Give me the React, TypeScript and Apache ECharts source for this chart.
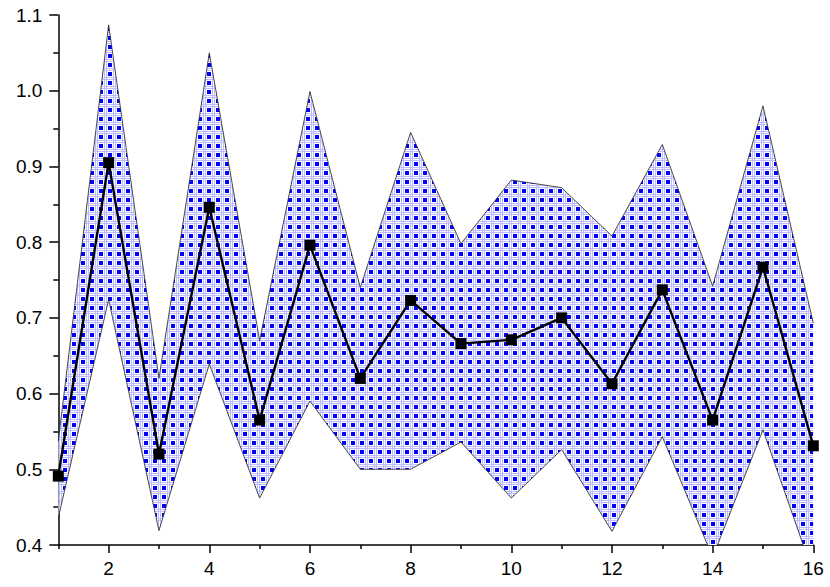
import React, { useEffect, useRef } from "react";
import * as echarts from "echarts";

const xValues = [1, 2, 3, 4, 5, 6, 7, 8, 9, 10, 11, 12, 13, 14, 15, 16];
const meanValues = [0.491, 0.905, 0.52, 0.846, 0.565, 0.796, 0.62, 0.723, 0.666, 0.671, 0.7, 0.613, 0.737, 0.565, 0.767, 0.531];
const upperValues = [0.537, 1.087, 0.62, 1.05, 0.67, 0.999, 0.74, 0.945, 0.798, 0.882, 0.872, 0.808, 0.929, 0.742, 0.98, 0.693];
const lowerValues = [0.436, 0.724, 0.419, 0.639, 0.462, 0.59, 0.5, 0.5, 0.536, 0.462, 0.526, 0.418, 0.543, 0.384, 0.552, 0.362];
const majorXTicks = [2, 4, 6, 8, 10, 12, 14, 16];
const minorXTicks = [1, 3, 5, 7, 9, 11, 13, 15];

function makeTile(): HTMLCanvasElement {
  const P = 9;
  const c = document.createElement("canvas");
  c.width = P;
  c.height = P;
  const ctx = c.getContext("2d")!;
  ctx.fillStyle = "#ffffff";
  ctx.fillRect(0, 0, P, P);
  ctx.fillStyle = "#bcbcff";
  ctx.fillRect(5, 0, 1, P);
  ctx.fillRect(7, 0, 1, P);
  ctx.fillRect(0, 5, P, 1);
  ctx.fillRect(0, 7, P, 1);
  ctx.fillStyle = "#0000ff";
  ctx.fillRect(0, 0, 4, 4);
  return c;
}

export default function App() {
  const ref = useRef<HTMLDivElement>(null);
  useEffect(() => {
    document.body.style.margin = "0";
    const chart = echarts.init(ref.current!, null, { renderer: "svg" });
    const tile = makeTile();
    const bandData = xValues.map((x, i) => [x, upperValues[i], lowerValues[i]]);
    const upperData = xValues.map((x, i) => [x, upperValues[i]]);
    const lowerData = xValues.map((x, i) => [x, lowerValues[i]]);
    const meanData = xValues.map((x, i) => [x, meanValues[i]]);
    const font = "'Liberation Sans', Arial, sans-serif";
    const tickStyle = { color: "#000", width: 1.5 };
    chart.setOption({
      animation: false,
      grid: { left: 58.3, right: 16.7, top: 15, bottom: 42 },
      xAxis: [
        {
          type: "value",
          min: 1,
          max: 16,
          interval: 1,
          position: "bottom",
          splitLine: { show: false },
          axisLine: { show: true, onZero: false, lineStyle: tickStyle },
          axisTick: { show: true, length: 8, customValues: majorXTicks, lineStyle: tickStyle },
          axisLabel: {
            customValues: majorXTicks,
            margin: 14,
            color: "#000",
            fontSize: 19,
            fontFamily: font,
          },
        },
        {
          type: "value",
          min: 1,
          max: 16,
          interval: 1,
          position: "bottom",
          splitLine: { show: false },
          axisLine: { show: false, onZero: false },
          axisTick: { show: true, length: 4, customValues: minorXTicks, lineStyle: tickStyle },
          axisLabel: { show: false },
        },
      ],
      yAxis: {
        type: "value",
        min: 0.4,
        max: 1.1,
        interval: 0.1,
        splitLine: { show: false },
        axisLine: { show: true, onZero: false, lineStyle: tickStyle },
        axisTick: { show: true, length: 9, lineStyle: tickStyle },
        minorTick: { show: true, splitNumber: 2, length: 5, lineStyle: tickStyle },
        axisLabel: {
          margin: 16,
          color: "#000",
          fontSize: 19,
          fontFamily: font,
          formatter: (v: number) => v.toFixed(1),
        },
      },
      series: [
        {
          type: "custom",
          data: bandData,
          z: 1,
          renderItem: (params: any, api: any) => {
            if (params.dataIndex !== 0) return null;
            const pts: number[][] = [];
            for (let j = 0; j < xValues.length; j++) pts.push(api.coord([xValues[j], upperValues[j]]));
            for (let j = xValues.length - 1; j >= 0; j--) pts.push(api.coord([xValues[j], lowerValues[j]]));
            const cs = params.coordSys;
            return {
              type: "polygon",
              shape: { points: pts },
              style: {
                fill: { image: tile, repeat: "repeat", imageWidth: 9, imageHeight: 9 },
                stroke: "none",
              },
              clipPath: { type: "rect", shape: { x: cs.x, y: cs.y, width: cs.width, height: cs.height } },
            };
          },
        },
        {
          type: "line",
          data: upperData,
          symbol: "none",
          lineStyle: { color: "#222", width: 0.8 },
          z: 2,
        },
        {
          type: "line",
          data: lowerData,
          symbol: "none",
          lineStyle: { color: "#222", width: 0.8 },
          z: 2,
        },
        {
          type: "line",
          data: meanData,
          symbol: "rect",
          symbolSize: 11,
          itemStyle: { color: "#000" },
          lineStyle: { color: "#000", width: 2.4 },
          z: 3,
        },
      ],
    });
    return () => chart.dispose();
  }, []);
  return <div ref={ref} style={{ width: 830, height: 587 }} />;
}
